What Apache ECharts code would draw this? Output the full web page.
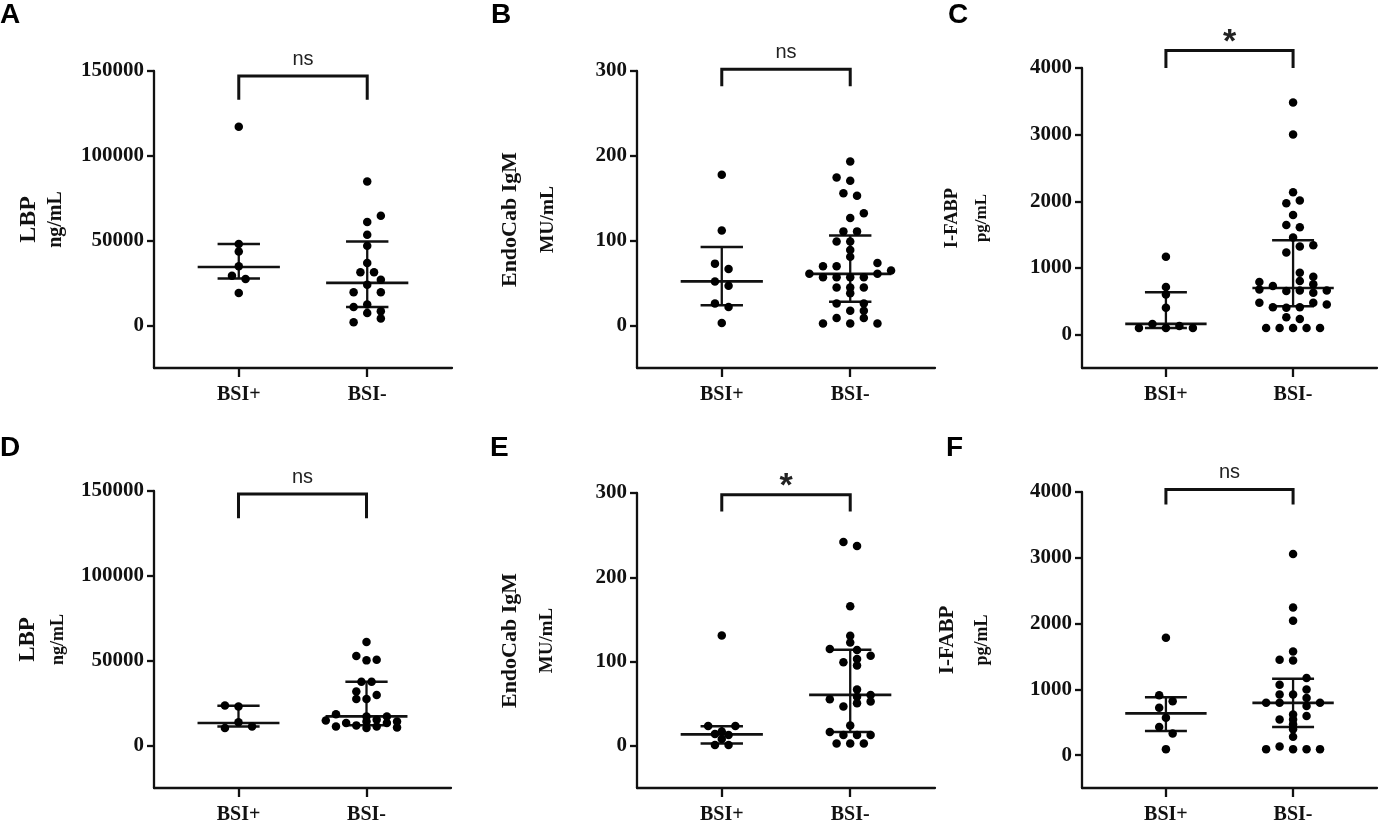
<!DOCTYPE html>
<html>
<head>
<meta charset="utf-8">
<title>BSI biomarkers</title>
<script src="https://cdn.jsdelivr.net/npm/echarts@6.0.0/dist/echarts.min.js"></script>
<style>
  html, body { margin: 0; padding: 0; background: #fff; }
  #chart { width: 1384px; height: 825px; }
</style>
</head>
<body>
<div id="chart"></div>
<script>
const groups = ['BSI+', 'BSI-'];
const lbpTicks = [0, 50000, 100000, 150000];
const endoTicks = [0, 100, 200, 300];
const fabpTicks = [0, 1000, 2000, 3000, 4000];

// jitter values are dot columns
const aPos = [117200, 48000, 43700, 34900, 29400, 27500, 19200];
const aPosJit = [0, 0, 0, 0, -1, 1, 0];
const aNeg = [84900, 64700, 61000, 53500, 47000, 36900, 31400, 31400, 27000, 24100, 19600, 19600, 12400, 11000, 8400, 7400, 4100, 2000];
const aNegJit = [0, 2, 0, 0, 0, 0, -1, 1, 2, 0, -2, 2, 0, -2, 2, 0, 2, -2];
const aMedian = [34500, 25100];
const aQ1 = [27700, 11000];
const aQ3 = [48000, 49600];

const bPos = [177.6, 112, 73, 66.7, 52, 47, 25.9, 22, 3.1];
const bPosJit = [0, 0, -1, 1, -1, 1, -1, 1, 0];
const bNeg = [193.3, 174.5, 170.6, 156, 153, 132.5, 126.7, 111, 111, 99, 99, 89, 81, 73.7, 69.8, 69.8, 65, 61, 61, 57, 57, 57, 57, 45, 45, 45, 38, 26, 26, 17.6, 17.6, 9, 9, 2.4, 2.4, 2.4];
const bNegJit = [0, -2, 0, -1, 1, 2, 0, -1, 1, -2, 0, 0, 0, 4, -4, -2, 6, -6, 4, -4, -2, 0, 2, -2, 0, 2, 0, -2, 2, 0, 2, -2, 2, -4, 0, 4];
const bMedian = [52, 61];
const bQ1 = [24, 28];
const bQ3 = [92.5, 106];

const cPos = [1167, 714, 604, 402, 161, 101, 101, 131, 101];
const cPosJit = [0, 0, 0, 0, -2, -4, 0, 2, 4];
const cNeg = [3481, 3004, 2138, 1972, 2012, 1796, 1645, 1610, 1459, 1323, 1343, 1233, 930, 870, 805, 789, 730, 755, 679, 654, 664, 628, 664, 477, 477, 453, 412, 402, 412, 261, 236, 100, 100, 100, 100, 100];
const cNegJit = [0, 0, 0, -1, 1, 0, -1, 1, 0, 1, 3, -1, 1, 3, 1, -5, -3, 3, -5, -1, 1, 3, 5, -5, 3, 5, -3, -1, 1, -1, 1, -4, -2, 0, 2, 4];
const cMedian = [161, 700];
const cQ1 = [101, 427];
const cQ3 = [638, 1418];

const dPos = [23600, 23000, 13800, 10300, 11300];
const dPosJit = [-2, 0, 0, -2, 2];
const dNeg = [61000, 52800, 50200, 50600, 37600, 37600, 31800, 29800, 27500, 27500, 18500, 14800, 13300, 11300, 11900, 17200, 14200, 10300, 15200, 11300, 17200, 13300, 14200, 10700];
const dNegJit = [0, -1.5, 0, 1.5, -0.75, 0.75, -1.5, 1.5, -1.5, 0, -4.5, -6, -3, -4.5, -1.5, 0, 0, 0, 1.5, 1.5, 3, 3, 4.5, 4.5];
const dMedian = [13300, 17200];
const dQ1 = [11300, 12000];
const dQ3 = [23400, 37600];

const ePos = [131, 23.5, 23.5, 17, 14, 13, 8, 1, 1];
const ePosJit = [0, -2, 2, 0, -1, 1, 0, -1, 1];
const eNeg = [242, 237, 165.5, 130.5, 122.7, 114.8, 113.7, 107, 103, 99.3, 95.4, 67, 60.4, 58.4, 55.3, 52.6, 50.6, 46.7, 24.1, 16.4, 12.8, 12.8, 12.8, 2.7, 2.7, 2.7];
const eNegJit = [-1, 1, 0, 0, 0, -3, 1, 3, 1, -1, 1, 1, 3, 1, -3, 3, 1, -1, 0, -3, -1, 1, 3, -2, 0, 2];
const eMedian = [13.6, 60.4];
const eQ1 = [2.7, 16.4];
const eQ3 = [23.4, 114.1];

const fPos = [1786, 911, 720, 820, 569, 428, 327, 91];
const fPosJit = [0, -1, -1, 1, 0, -1, 1, 0];
const fNeg = [3057, 2243, 2042, 1575, 1448, 1439, 1172, 1071, 996, 921, 921, 870, 795, 795, 745, 795, 618, 594, 543, 543, 468, 392, 278, 91, 131, 91, 91, 91];
const fNegJit = [0, 0, 0, 0, -2, 0, 2, -2, 2, -2, 0, 2, -4, -2, 2, 4, 0, 2, -2, 0, 0, 0, 0, -4, -2, 0, 2, 4];
const fMedian = [634, 795];
const fQ1 = [368, 428];
const fQ3 = [881, 1162];

const signif = ['ns', 'ns', '*', 'ns', '*', 'ns'];
const bracketLow = [133000, 282, 4000, 134000, 278, 3811];
const bracketHigh = [147000, 302, 4261, 148200, 298, 4038];

const serif = '"Liberation Serif", "Times New Roman", serif';
const sans = '"Liberation Sans", Arial, sans-serif';
const ink = '#111';
const step = 0.053;

const panels = [
  { letter: 'A', pos: aPos, posJit: aPosJit, neg: aNeg, negJit: aNegJit, med: aMedian, q1: aQ1, q3: aQ3,
    ticks: lbpTicks, min: -25000, max: 150000, name: ['LBP', 'ng/mL'],
    grid: { left: 154, top: 71, width: 298, height: 297 }, gap: 85, lh: 27, f1: 24, f2: 20, at: [0, 1] },
  { letter: 'B', pos: bPos, posJit: bPosJit, neg: bNeg, negJit: bNegJit, med: bMedian, q1: bQ1, q3: bQ3,
    ticks: endoTicks, min: -50, max: 300, name: ['EndoCab IgM', 'MU/mL'],
    grid: { left: 637, top: 71, width: 298, height: 297 }, gap: 71, lh: 37, f1: 22, f2: 19.5, at: [491, 1] },
  { letter: 'C', pos: cPos, posJit: cPosJit, neg: cNeg, negJit: cNegJit, med: cMedian, q1: cQ1, q3: cQ3,
    ticks: fabpTicks, min: -500, max: 4000, name: ['I-FABP', 'pg/mL'],
    grid: { left: 1082, top: 68, width: 295, height: 300 }, gap: 85, lh: 30, f1: 18.5, f2: 17, at: [948, 1] },
  { letter: 'D', pos: dPos, posJit: dPosJit, neg: dNeg, negJit: dNegJit, med: dMedian, q1: dQ1, q3: dQ3,
    ticks: lbpTicks, min: -25000, max: 150000, name: ['LBP', 'ng/mL'],
    grid: { left: 154, top: 491, width: 297, height: 299 }, gap: 81, lh: 30, f1: 23, f2: 18, at: [0, 434] },
  { letter: 'E', pos: ePos, posJit: ePosJit, neg: eNeg, negJit: eNegJit, med: eMedian, q1: eQ1, q3: eQ3,
    ticks: endoTicks, min: -50, max: 300, name: ['EndoCab IgM', 'MU/mL'],
    grid: { left: 637, top: 493, width: 298, height: 300 }, gap: 71, lh: 37, f1: 22, f2: 19, at: [490, 434] },
  { letter: 'F', pos: fPos, posJit: fPosJit, neg: fNeg, negJit: fNegJit, med: fMedian, q1: fQ1, q3: fQ3,
    ticks: fabpTicks, min: -500, max: 4000, name: ['I-FABP', 'pg/mL'],
    grid: { left: 1082, top: 492, width: 295, height: 299 }, gap: 83, lh: 34, f1: 21, f2: 18, at: [946, 434] }
];

function seg(api, x1, y1, x2, y2, w) {
  const p = api.coord([x1, y1]);
  const q = api.coord([x2, y2]);
  return { type: 'line', shape: { x1: p[0], y1: p[1], x2: q[0], y2: q[1] }, style: { stroke: ink, lineWidth: w } };
}

function renderStats(params, api) {
  const x = api.value(0), med = api.value(1), lo = api.value(2), hi = api.value(3);
  return {
    type: 'group',
    children: [
      seg(api, x - 0.32, med, x + 0.32, med, 2.7),
      seg(api, x, lo, x, hi, 2.3),
      seg(api, x - 0.165, lo, x + 0.165, lo, 2.5),
      seg(api, x - 0.165, hi, x + 0.165, hi, 2.5)
    ]
  };
}

function makeBracket(i) {
  return function (params, api) {
    const x1 = api.value(0), x2 = api.value(1), lo = api.value(2), hi = api.value(3);
    const pts = [api.coord([x1, lo]), api.coord([x1, hi]), api.coord([x2, hi]), api.coord([x2, lo])];
    const mid = api.coord([(x1 + x2) / 2, hi]);
    const star = signif[i] === '*';
    return {
      type: 'group',
      children: [
        { type: 'polyline', shape: { points: pts }, style: { stroke: ink, lineWidth: 3, fill: null } },
        { type: 'text', x: mid[0], y: mid[1] + (star ? -8 : -17),
          style: { text: signif[i], fill: '#222', align: 'center', verticalAlign: 'middle',
                   font: (star ? 'bold 34px ' : '20px ') + sans } }
      ]
    };
  };
}

const series = [];
panels.forEach(function (p, i) {
  const pts = p.pos.map((v, k) => [1 + p.posJit[k] * step, v])
    .concat(p.neg.map((v, k) => [2 + p.negJit[k] * step, v]));
  series.push({
    type: 'scatter', xAxisIndex: i, yAxisIndex: i, data: pts,
    symbolSize: 8.5, itemStyle: { color: '#000', opacity: 1 }, silent: true
  });
  series.push({
    type: 'custom', xAxisIndex: i, yAxisIndex: i, renderItem: renderStats, silent: true,
    data: [[1, p.med[0], p.q1[0], p.q3[0]], [2, p.med[1], p.q1[1], p.q3[1]]]
  });
  series.push({
    type: 'custom', xAxisIndex: i, yAxisIndex: i, renderItem: makeBracket(i), silent: true,
    data: [[1, 2, bracketLow[i], bracketHigh[i]]]
  });
});

const chart = echarts.init(document.getElementById('chart'));
chart.setOption({
  animation: false,
  backgroundColor: '#fff',
  grid: panels.map(p => p.grid),
  xAxis: panels.map((p, i) => ({
    gridIndex: i, type: 'value', min: 0.34, max: 2.66,
    axisLine: { onZero: false, lineStyle: { color: ink, width: 2.3 } },
    axisTick: { customValues: [1, 2], length: 9, lineStyle: { color: ink, width: 2.3 } },
    axisLabel: {
      customValues: [1, 2], formatter: v => groups[Math.round(v) - 1], margin: 17,
      fontFamily: serif, fontWeight: 'bold', fontSize: 20, color: ink
    },
    splitLine: { show: false }
  })),
  yAxis: panels.map((p, i) => ({
    gridIndex: i, type: 'value', min: p.min, max: p.max,
    axisLine: { show: true, onZero: false, lineStyle: { color: ink, width: 2.3 } },
    axisTick: { show: true, customValues: p.ticks, length: 7, lineStyle: { color: ink, width: 2.3 } },
    axisLabel: {
      customValues: p.ticks, formatter: v => String(v), margin: 10,
      fontFamily: serif, fontWeight: 'bold', fontSize: 21, color: ink
    },
    splitLine: { show: false },
    name: '{a|' + p.name[0] + '}\n{b|' + p.name[1] + '}',
    nameLocation: 'middle', nameGap: p.gap,
    nameTextStyle: {
      color: ink,
      rich: {
        a: { fontFamily: serif, fontWeight: 'bold', fontSize: p.f1, lineHeight: p.lh, color: ink },
        b: { fontFamily: serif, fontWeight: 'bold', fontSize: p.f2, lineHeight: p.lh, color: ink }
      }
    }
  })),
  graphic: panels.map(p => ({
    type: 'text', left: p.at[0], top: p.at[1],
    style: { text: p.letter, font: 'bold 28px ' + sans, fill: '#000' }
  })),
  series: series
});
</script>
</body>
</html>
